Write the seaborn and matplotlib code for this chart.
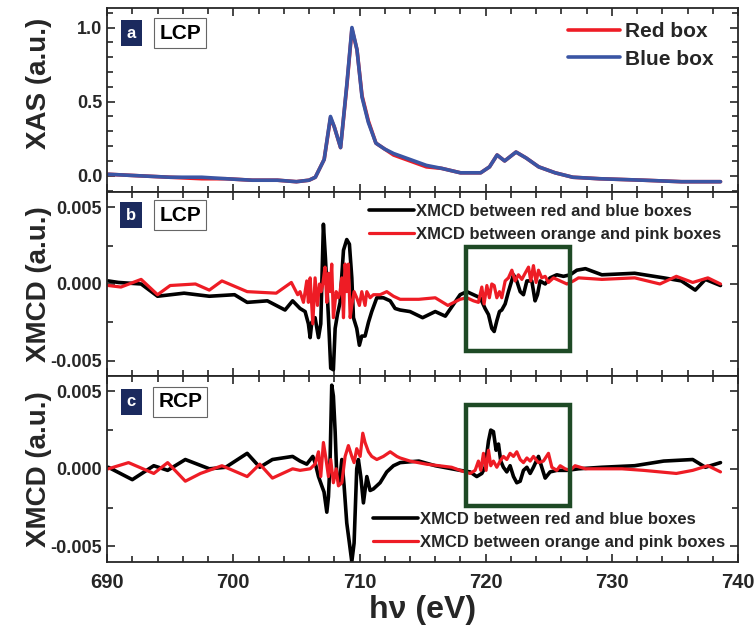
import matplotlib
matplotlib.use('Agg')
import matplotlib.pyplot as plt
import matplotlib.ticker as mticker
from matplotlib.patches import Rectangle
import seaborn as sns

# XAS, panel a (eV, a.u.)
xas_e = [690.1, 692.5, 695.0, 697.5, 699.4, 701.5, 703.5, 705.0, 706.0, 706.5, 707.2, 707.7, 708.0,
         708.5, 709.0, 709.4, 709.8, 710.2, 710.7, 711.3, 712.0, 712.7, 714.0, 715.3, 716.5, 718.0,
         719.6, 720.3, 720.9, 721.5, 722.4, 723.2, 724.2, 725.5, 726.9, 729.0, 732.5, 735.5, 738.6]
xas_blue = [0.01, 0.0, -0.01, -0.01, -0.02, -0.03, -0.03, -0.04, -0.03, -0.01, 0.11, 0.40, 0.33,
            0.19, 0.62, 1.00, 0.85, 0.53, 0.36, 0.22, 0.18, 0.15, 0.11, 0.07, 0.05, 0.02,
            0.02, 0.06, 0.14, 0.10, 0.16, 0.12, 0.06, 0.02, -0.01, -0.02, -0.03, -0.04, -0.04]
xas_red = [0.01, 0.0, -0.01, -0.02, -0.02, -0.03, -0.03, -0.04, -0.03, -0.01, 0.11, 0.39, 0.33,
           0.19, 0.61, 0.99, 0.85, 0.54, 0.37, 0.22, 0.18, 0.14, 0.10, 0.06, 0.05, 0.02,
           0.02, 0.06, 0.14, 0.10, 0.16, 0.12, 0.06, 0.02, -0.01, -0.02, -0.03, -0.04, -0.04]

# XMCD LCP, panel b (units of 1e-3)
b_blk_e = [690.1, 690.9, 692.7, 694.0, 696.1, 698.1, 700.1, 701.1, 702.7, 704.1, 704.7,
           705.29, 705.69, 705.95, 706.09, 706.22, 706.48, 706.75, 706.93, 707.14, 707.30, 707.54,
           707.72, 707.93, 708.07, 708.25, 708.46, 708.73, 708.99, 709.20, 709.39, 709.52, 709.78,
           709.99, 710.18, 710.44, 710.71, 710.97, 711.37, 711.89, 712.43, 712.82, 713.22,
           714.0, 715.0, 716.0, 716.8,
           717.97, 718.50, 719.03, 719.56, 719.95, 720.22, 720.48, 720.67, 720.88, 721.09, 721.27,
           721.54, 721.80, 722.20, 722.46, 722.73, 722.99, 723.26, 723.65, 723.91, 724.10, 724.31,
           724.71, 725.10, 725.63, 726.16, 726.69, 727.22,
           727.9, 729.2, 731.8, 734.1, 735.5, 736.6, 737.4, 738.6]
b_blk = [0.2, 0.1, 0.0, -0.8, -0.6, -0.8, -0.7, -1.2, -1.1, -1.7, -1.1,
         -1.6, -1.8, -2.6, -3.5, -2.5, -2.2, -3.5, -2.6, 3.9, 1.7, -2.2,
         -5.5, -5.6, -2.9, -2.0, -1.2, 2.2, 2.9, 2.6, 0.4, -2.2, -2.9,
         -4.0, -3.4, -3.4, -2.5, -1.8, -0.9, -0.9, -1.1, -1.6, -1.7,
         -1.8, -2.2, -1.8, -2.1,
         -0.7, -0.5, -0.7, -0.9, -1.6, -2.0, -2.9, -3.1, -2.4, -1.8, -1.7,
         -1.3, -0.5, 0.6, 0.2, -0.5, -0.7, 0.2, 0.2, -1.1, -0.7, 0.2,
         0.0, 0.4, 0.6, 0.5, 0.6, 0.9,
         1.0, 0.6, 0.7, 0.4, 0.2, -0.4, 0.3, -0.1]
b_red_e = [690.1, 691.1, 692.7, 694.0, 695.0, 697.0, 698.1, 699.1, 701.1, 703.4, 704.6, 705.1,
           705.29, 705.56, 705.82, 705.95, 706.09, 706.30, 706.48, 706.67, 706.83, 706.96, 707.09,
           707.27, 707.41, 707.54, 707.67, 707.80, 707.93, 708.15, 708.33, 708.46, 708.60, 708.73,
           708.86, 708.99, 709.12, 709.26, 709.39, 709.57, 709.78, 709.99, 710.18, 710.44, 710.58,
           710.84, 711.10, 711.63, 712.16, 712.69, 713.22,
           714.7, 716.0, 717.0,
           717.97, 718.50, 719.03, 719.42, 719.69, 719.87, 720.09, 720.29, 720.48, 720.67, 720.88,
           721.09, 721.27, 721.54, 721.80, 722.07, 722.33, 722.59, 722.86, 723.12, 723.39, 723.57,
           723.78, 723.99, 724.18, 724.44, 724.71, 724.97, 725.37, 725.90, 726.43, 726.95, 727.35,
           729.2, 731.8, 733.8, 735.1, 736.4, 737.6, 738.6]
b_red = [-0.1, -0.2, 0.3, -0.7, -0.1, 0.0, -0.4, 0.2, -0.5, -0.6, 0.1, -0.7,
         -0.5, -1.2, 0.2, -1.2, 0.4, -2.6, 0.4, -1.4, 0.0, -0.5, 0.0,
         1.1, -1.2, 0.7, -0.5, 1.3, -2.2, -0.5, -0.9, -0.5, 0.4, -2.2,
         1.3, -0.5, 1.3, -2.2, -1.4, -0.5, -0.9, -1.4, -0.5, -1.4, -0.5,
         -0.9, -0.7, -0.7, -0.5, -0.8, -1.0,
         -1.0, -0.9, -1.4,
         -1.0, -0.9, -1.1, -1.2, -0.2, -1.3, -0.1, -0.9, 0.0, -0.1, -0.9,
         -0.5, -0.9, 0.2, 0.4, 0.9, 0.2, 0.6, 0.3, 0.7, 1.1, 0.2,
         1.2, 0.1, 0.9, 0.4, 0.5, 0.1, 0.4, 0.2, 0.0, 0.2, 0.4,
         0.3, 0.4, 0.0, 0.5, 0.1, 0.4, 0.0]

# XMCD RCP, panel c (units of 1e-3)
c_blk_e = [690.1, 692.0, 693.7, 694.8, 696.2, 698.1, 699.4, 701.1, 702.1, 703.1, 704.7,
           705.29, 705.82, 706.30, 706.48, 706.75, 707.01, 707.19, 707.41, 707.54, 707.67, 707.80,
           707.93, 708.07, 708.20, 708.41, 708.60, 708.78, 708.99, 709.20, 709.39, 709.57, 709.78,
           709.91, 710.10, 710.31, 710.58, 710.84, 711.10, 711.63, 712.16, 712.69, 713.22,
           714.7, 716.0,
           717.97, 718.76, 719.29, 719.69, 719.95, 720.22, 720.40, 720.61, 720.82, 721.01, 721.19,
           721.40, 721.67, 721.93, 722.20, 722.46, 722.73, 722.99, 723.26, 723.52, 723.78, 724.18,
           724.44, 724.71, 725.10, 725.63, 726.43, 727.35,
           729.2, 731.8, 734.1, 736.4, 737.4, 738.6]
c_blk = [0.1, -0.7, 0.2, -0.1, 0.6, 0.0, 0.1, 1.0, 0.1, 0.6, 0.8,
         0.5, 0.3, 0.8, 0.4, -0.5, -1.1, -1.5, -2.8, -1.8, 0.6, 5.4,
         4.7, 2.4, -0.5, -0.9, 0.6, -1.1, -3.5, -4.8, -6.0, -4.8, 0.0,
         0.6, -0.5, -2.2, -0.5, -1.4, -1.3, -0.9, -0.2, 0.2, 0.4,
         0.5, 0.2,
         -0.1, -0.2, -0.5, -0.3, 0.1, 1.8, 2.5, 2.4, 1.2, 1.6, 0.5,
         0.1, -0.2, 0.2, -0.5, -0.9, -0.8, -0.1, 0.1, -0.3, 0.1, 0.8,
         0.1, -0.6, -0.2, -0.1, -0.1, 0.0,
         0.1, 0.2, 0.5, 0.6, 0.1, 0.4]
c_red_e = [690.1, 691.7, 693.7, 694.8, 696.2, 697.4, 699.1, 701.1, 702.1, 703.1, 704.7,
           705.29, 706.09, 706.48, 706.75, 706.93, 707.14, 707.35, 707.54, 707.72, 707.93, 708.15,
           708.33, 708.60, 708.86, 709.12, 709.39, 709.57, 709.78, 710.05, 710.26, 710.44, 710.71,
           710.97, 711.37, 711.89, 712.43, 712.96, 713.22,
           714.0, 715.3, 717.3,
           717.97, 718.76, 719.16, 719.42, 719.61, 719.82, 720.03, 720.22, 720.40, 720.61, 720.88,
           721.14, 721.40, 721.67, 721.93, 722.20, 722.46, 722.73, 722.99, 723.26, 723.52, 723.78,
           724.18, 724.57, 724.97, 725.24, 725.63, 725.90, 726.29, 726.69, 727.08,
           727.9, 730.8, 732.5, 735.1, 736.4, 737.6, 738.6]
c_red = [0.0, 0.4, -0.3, 0.4, -0.8, -0.3, 0.2, -0.5, 0.3, -0.6, 0.0,
         -0.1, 0.0, 0.3, 1.1, -0.5, 1.7, 0.6, -0.5, 0.6, -0.9, 0.0,
         -1.1, -0.9, 0.8, 1.5, 0.8, 0.4, 1.3, 0.8, 2.3, 1.7, 1.1,
         0.8, 0.6, 0.8, 1.1, 0.8, 0.7,
         0.5, 0.3, 0.1,
         -0.1, -0.3, -0.1, 0.5, -0.1, 1.0, -0.1, 1.2, 0.2, 0.5, 0.1,
         0.5, 0.8, 0.6, 1.0, 0.8, 1.1, 0.6, 0.4, 0.7, 0.5, 0.8,
         0.4, 0.5, 1.0, 0.1, -0.1, 0.2, 0.0, -0.1, 0.2,
         0.0, 0.0, -0.1, -0.3, -0.1, 0.2, -0.2]

leg_b = ['XMCD between red and blue boxes', 'XMCD between orange and pink boxes']

sns.set_style('ticks')
plt.rcParams['font.family'] = ['Liberation Sans Narrow', 'Liberation Sans', 'DejaVu Sans']
plt.rcParams['font.weight'] = 'bold'
wide = ['Liberation Sans', 'DejaVu Sans']

fig = plt.figure(figsize=(7.54, 6.34), dpi=100)
gs = fig.add_gridspec(3, 1, left=0.142, right=0.979, top=0.987, bottom=0.114,
                      height_ratios=[184, 184, 186], hspace=0)
ax_a = fig.add_subplot(gs[0])
ax_b = fig.add_subplot(gs[1], sharex=ax_a)
ax_c = fig.add_subplot(gs[2], sharex=ax_a)

# panel a
sns.lineplot(x=xas_e, y=xas_red, ax=ax_a, color='#ee1c25', lw=2.6, label='Red box')
sns.lineplot(x=xas_e, y=xas_blue, ax=ax_a, color='#3a55a4', lw=2.6, label='Blue box')
ax_a.set_ylim(-0.11, 1.13)
ax_a.yaxis.set_major_locator(mticker.MultipleLocator(0.5))
ax_a.yaxis.set_minor_locator(mticker.MultipleLocator(0.1))
ax_a.yaxis.set_major_formatter(mticker.FormatStrFormatter('%.1f'))
ax_a.set_ylabel('XAS (a.u.)', fontsize=20, fontweight='bold', family=wide)
ax_a.legend(loc='upper right', bbox_to_anchor=(0.965, 0.935), frameon=False,
            handlelength=2.5, handletextpad=0.25, labelspacing=0.4, borderpad=0.1, borderaxespad=0,
            prop=dict(family=wide, weight='bold', size=15))

# panel b and c
for ax, be, bv, re_, rv in [(ax_b, b_blk_e, b_blk, b_red_e, b_red),
                            (ax_c, c_blk_e, c_blk, c_red_e, c_red)]:
    sns.lineplot(x=be, y=[v * 1e-3 for v in bv], ax=ax, color='black', lw=2.6, label=leg_b[0])
    sns.lineplot(x=re_, y=[v * 1e-3 for v in rv], ax=ax, color='#ee1c25', lw=2.3, label=leg_b[1])
    ax.set_ylim(-0.006, 0.006)
    ax.yaxis.set_major_locator(mticker.MultipleLocator(0.005))
    ax.yaxis.set_minor_locator(mticker.MultipleLocator(0.0025))
    ax.yaxis.set_major_formatter(mticker.FormatStrFormatter('%.3f'))
    ax.set_ylabel('XMCD (a.u.)', fontsize=20, fontweight='bold', family=wide)

leg_kw = dict(frameon=False, handlelength=2.7, handletextpad=0.1, labelspacing=0.5,
              borderpad=0.1, borderaxespad=0, prop=dict(family=wide, weight='bold', size=12))
ax_b.legend(loc='upper right', bbox_to_anchor=(0.975, 0.945), **leg_kw)
ax_c.legend(loc='lower right', bbox_to_anchor=(0.982, 0.055), **leg_kw)

# green boxes
ax_b.add_patch(Rectangle((718.4, -0.0044), 8.3, 0.0068, fill=False, ec='#1e4a25', lw=3.2, zorder=5))
ax_c.add_patch(Rectangle((718.4, -0.0024), 8.3, 0.0065, fill=False, ec='#1e4a25', lw=3.2, zorder=5))

# panel tags
for ax, tag, pol, ty in [(ax_a, 'a', 'LCP', 0.865), (ax_b, 'b', 'LCP', 0.875), (ax_c, 'c', 'RCP', 0.86)]:
    ax.text(0.038, ty, tag, transform=ax.transAxes, ha='center', va='center', color='white',
            fontsize=12, fontweight='bold', family=wide,
            bbox=dict(boxstyle='square,pad=0.35', fc='#1b2a5e', ec='none'))
    ax.text(0.116, ty, pol, transform=ax.transAxes, ha='center', va='center', color='black',
            fontsize=15, fontweight='bold', family=wide,
            bbox=dict(boxstyle='square,pad=0.25', fc='white', ec='#666666', lw=0.8))

for ax in (ax_a, ax_b, ax_c):
    ax.set_xlim(690, 740)
    ax.xaxis.set_major_locator(mticker.MultipleLocator(10))
    ax.xaxis.set_minor_locator(mticker.MultipleLocator(2))
    ax.tick_params(which='both', direction='in', top=True, right=True, width=1.2, labelsize=13)
    ax.tick_params(which='major', length=6)
    ax.tick_params(which='minor', length=4)
    for s in ax.spines.values():
        s.set_linewidth(1.3)
    ax.yaxis.set_label_coords(-0.088, 0.5)
    for lbl in ax.get_yticklabels() + ax.get_xticklabels():
        lbl.set_fontweight('bold')

ax_a.yaxis.set_label_coords(-0.088, 0.59)
plt.setp(ax_a.get_xticklabels(), visible=False)
plt.setp(ax_b.get_xticklabels(), visible=False)
ax_c.set_xlabel('h\u03bd (eV)', fontsize=23, fontweight='bold', family=wide, labelpad=2)
ax_c.tick_params(axis='x', pad=8, labelsize=14.5)

fig.savefig('out.png', dpi=100)
